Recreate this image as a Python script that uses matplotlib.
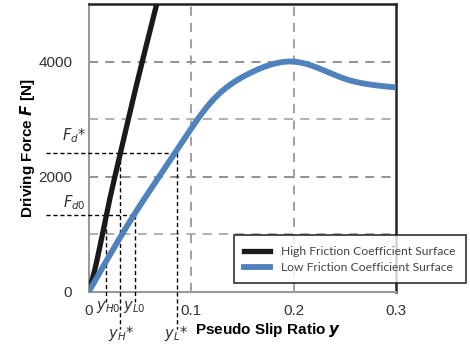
import numpy as np
import matplotlib
matplotlib.use("Agg")
import matplotlib.pyplot as plt
from matplotlib.lines import Line2D

plt.rcParams['font.family'] = ['Liberation Sans', 'DejaVu Sans']
plt.rcParams['mathtext.fontset'] = 'dejavusans'

# data
high_x = [0.0, 0.005, 0.0171, 0.0308, 0.0429, 0.066, 0.070]
high_F = [0, 320, 1332, 2407, 3326, 4984, 5270]

low_x = [0.0, 0.044, 0.084, 0.121, 0.155, 0.180, 0.200, 0.225, 0.250, 0.275, 0.300]
low_F = [0, 1332, 2407, 3330, 3780, 3960, 4000, 3880, 3700, 3600, 3550]

Fd0, Fd_star = 1332, 2407
yH0, yL0, yH_star, yL_star = 0.0171, 0.0448, 0.0308, 0.0857

x_ticks = [0, 0.1, 0.2, 0.3]
x_ticklabels = ['0', '0.1', '0.2', '0.3']
y_ticks = [0, 2000, 4000]


def spline(xs, ys, n=400):
    # natural cubic spline through the read points
    xs = np.asarray(xs, float)
    ys = np.asarray(ys, float)
    k = len(xs)
    h = np.diff(xs)
    A = np.zeros((k, k))
    b = np.zeros(k)
    A[0, 0] = A[-1, -1] = 1
    for i in range(1, k - 1):
        A[i, i - 1] = h[i - 1]
        A[i, i] = 2 * (h[i - 1] + h[i])
        A[i, i + 1] = h[i]
        b[i] = 6 * ((ys[i + 1] - ys[i]) / h[i] - (ys[i] - ys[i - 1]) / h[i - 1])
    M = np.linalg.solve(A, b)
    xx = np.linspace(xs[0], xs[-1], n)
    idx = np.clip(np.searchsorted(xs, xx) - 1, 0, k - 2)
    x0, x1 = xs[idx], xs[idx + 1]
    hi = h[idx]
    yy = (M[idx] * (x1 - xx)**3 / (6 * hi) + M[idx + 1] * (xx - x0)**3 / (6 * hi)
          + (ys[idx] / hi - M[idx] * hi / 6) * (x1 - xx)
          + (ys[idx + 1] / hi - M[idx + 1] * hi / 6) * (xx - x0))
    return xx, yy


fig = plt.figure(figsize=(4.7, 3.45), dpi=100)
ax = fig.add_axes([0.189, 0.155, 0.654, 0.833])
ax.set_xlim(0, 0.3)
ax.set_ylim(0, 5000)

# grid
for f, c in [(1000, '#aaaaaa'), (2000, '#888888'), (3000, '#aaaaaa'), (4000, '#888888')]:
    ax.axhline(f, color=c, lw=1.3, ls=(0, (5, 4)), zorder=1)
for xv in [0.1, 0.2]:
    ax.axvline(xv, color='#999999', lw=1.3, ls=(0, (5, 4)), zorder=1)

# curves
hx, hy = spline(high_x, high_F)
lx, ly = spline(low_x, low_F)
ax.plot(hx, hy, color='#1a1a1a', lw=3.8, solid_capstyle='butt', zorder=4)
ax.plot(lx, ly, color='#4f81bd', lw=4.2, solid_capstyle='butt', zorder=4)

# dashed guide lines
dk = dict(color='black', lw=1.0, ls=(0, (3, 2)), clip_on=False, zorder=3)
ax.plot([-0.042, yL_star], [Fd_star, Fd_star], **dk)
ax.plot([-0.042, yL0], [Fd0, Fd0], **dk)
ax.plot([yH0, yH0], [Fd0, -180], **dk)
ax.plot([yL0, yL0], [Fd0, -180], **dk)
ax.plot([yH_star, yH_star], [Fd_star, -650], **dk)
ax.plot([yL_star, yL_star], [Fd_star, -650], **dk)

# labels of guide lines
tk = dict(fontsize=10.5, color='#333333', family=['DejaVu Sans'])
ax.text(-0.0145, Fd_star + 310, r'$F_d$*', ha='center', va='center', **tk)
ax.text(-0.0145, Fd0 + 220, r'$F_{d0}$', ha='center', va='center', **tk)
ax.text(yH0 + 0.0015, -270, r'$y_{H0}$', ha='center', va='center', **tk)
ax.text(yL0 - 0.0005, -270, r'$y_{L0}$', ha='center', va='center', **tk)
ax.text(yH_star + 0.0005, -730, r'$y_H$*', ha='center', va='center', **tk)
ax.text(yL_star - 0.0005, -730, r'$y_L$*', ha='center', va='center', **tk)

# spines
for s in ['left', 'bottom']:
    ax.spines[s].set_color('#999999')
    ax.spines[s].set_linewidth(1.5)
for s in ['top', 'right']:
    ax.spines[s].set_color('#222222')
    ax.spines[s].set_linewidth(1.8)

ax.set_xticks(x_ticks)
ax.set_xticklabels(x_ticklabels)
ax.set_yticks(y_ticks)
ax.tick_params(length=0, labelsize=11, colors='#333333', pad=9)
ax.tick_params(axis='y', pad=12)

ax.set_ylabel(r'Driving Force $\bfit{F}$ [N]', fontsize=11, fontweight='bold', labelpad=1)
fig.text(0.415, 0.043, r'Pseudo Slip Ratio $\bfit{y}$', fontsize=11, fontweight='bold', ha='left', va='center')

handles = [Line2D([0], [0], color='#1a1a1a', lw=3.8),
           Line2D([0], [0], color='#4f81bd', lw=4.2)]
leg = fig.legend(handles, ['High Friction Coefficient Surface', 'Low Friction Coefficient Surface'],
                 loc='upper left', bbox_to_anchor=(0.484, 0.335), frameon=True, fancybox=False,
                 prop={'family': 'Lato', 'size': 8.7}, handlelength=2.2, borderpad=0.85,
                 labelspacing=0.45, handletextpad=0.9)
leg.get_frame().set_edgecolor('#111111')
leg.get_frame().set_linewidth(1.3)
leg.set_zorder(10)
for t in leg.get_texts():
    t.set_color('#444444')

fig.savefig('out.png', dpi=100)
